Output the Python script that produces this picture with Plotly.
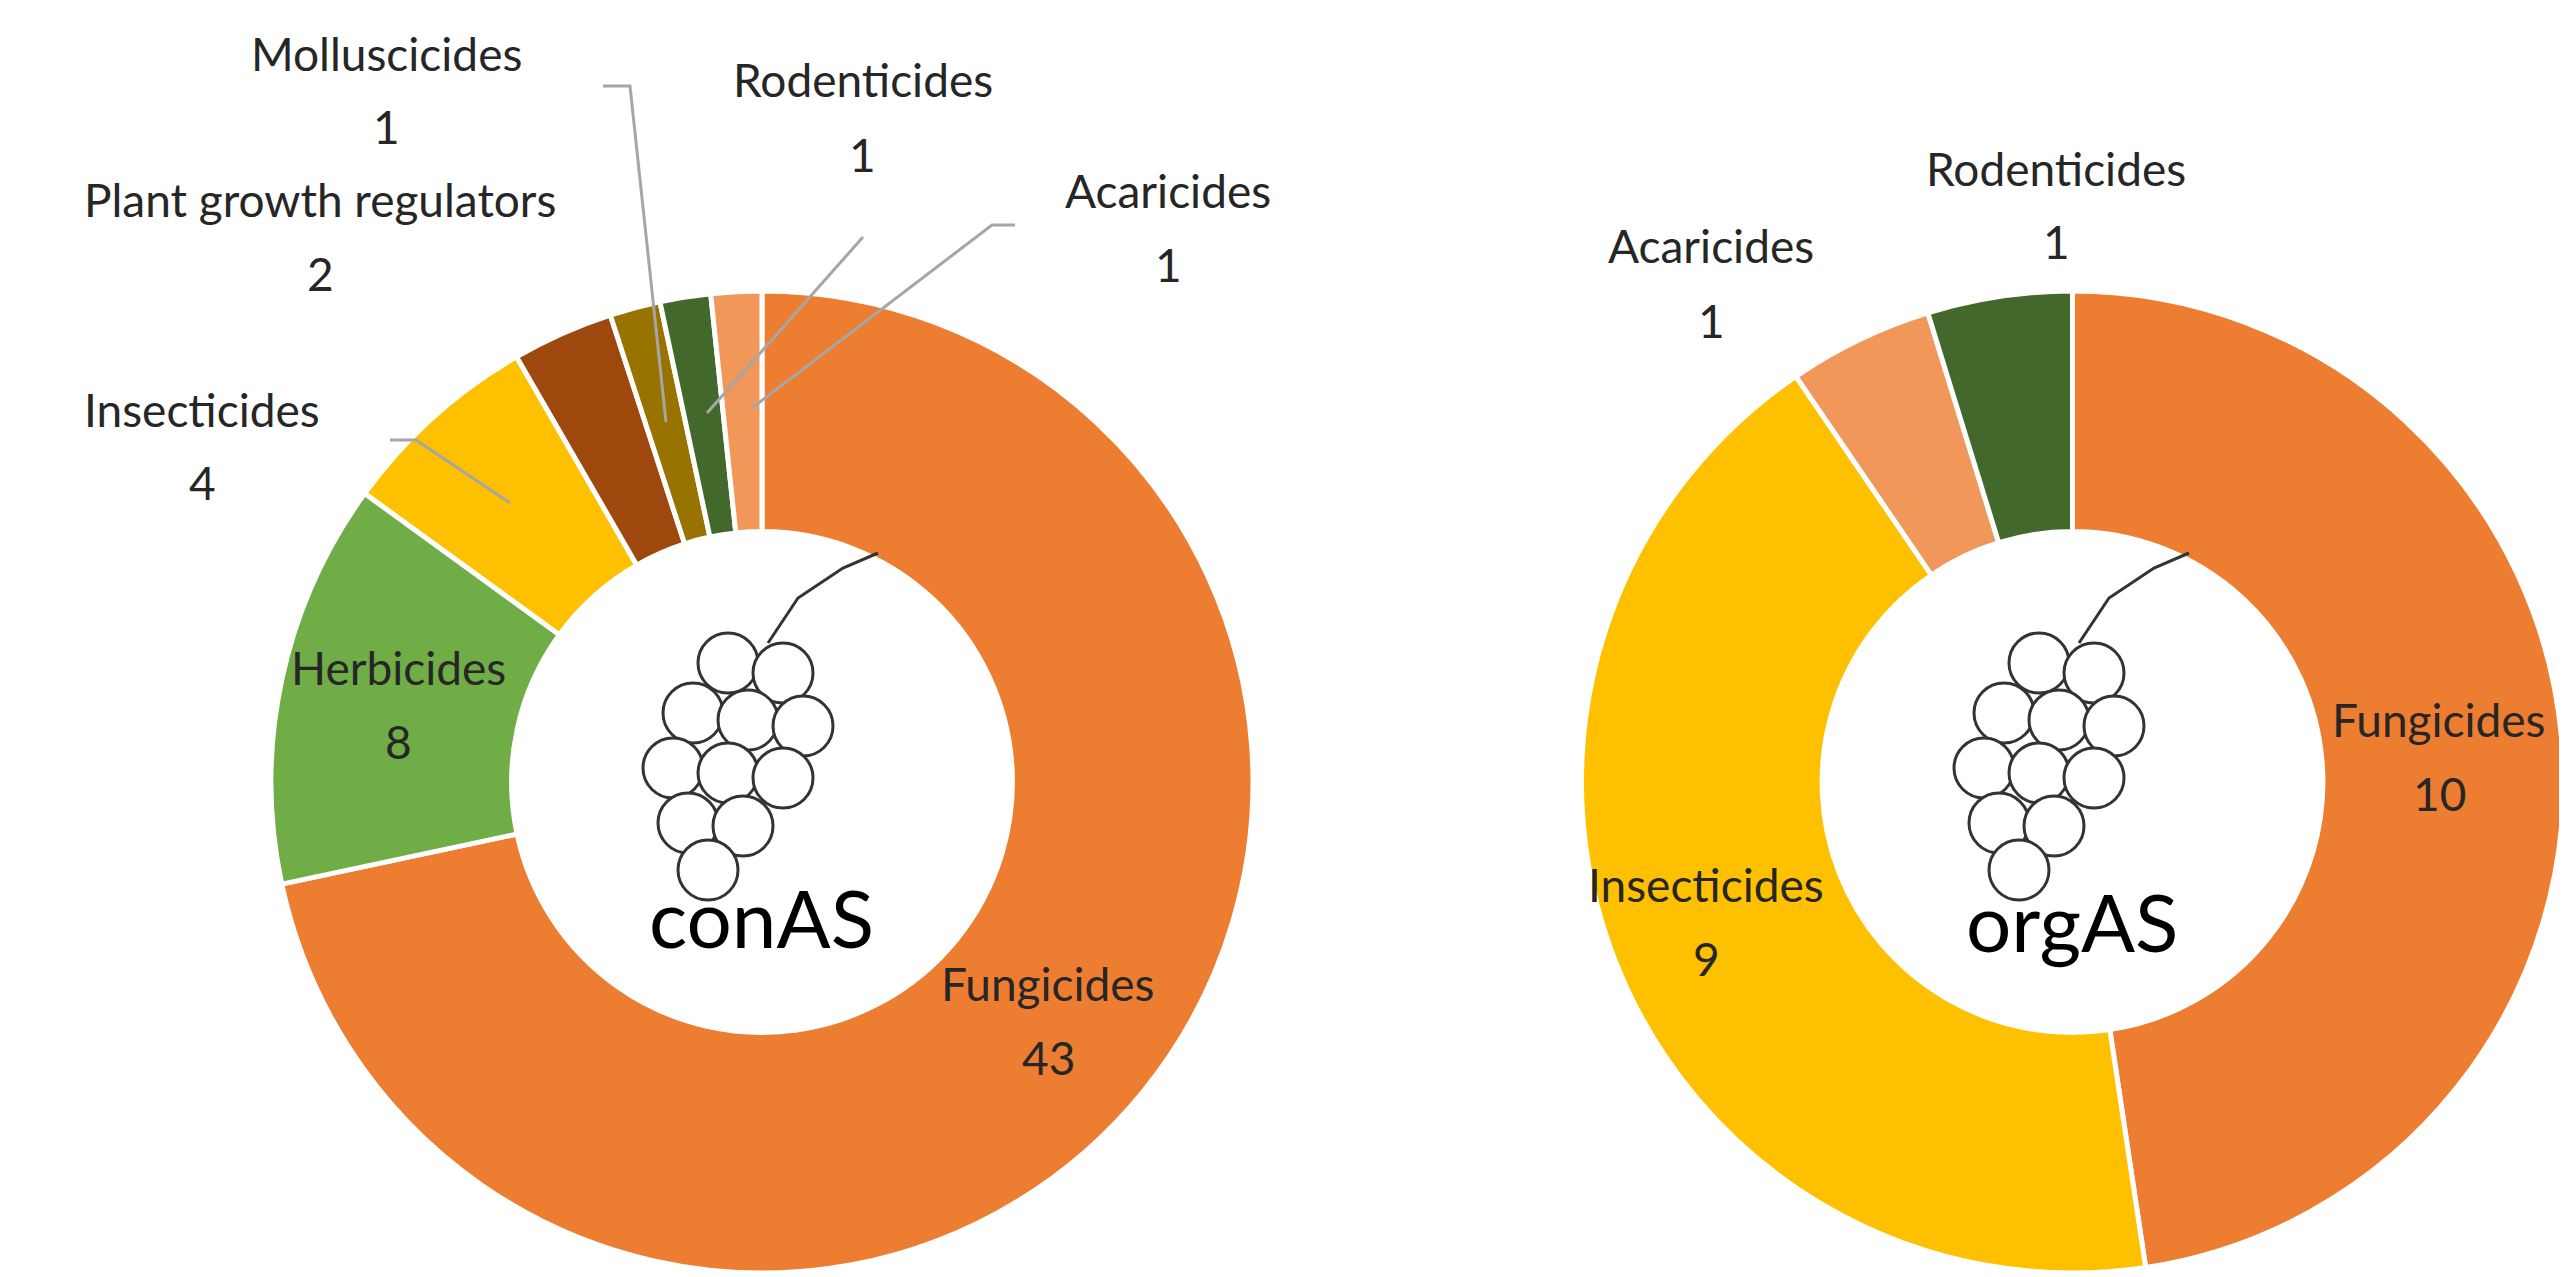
import plotly.graph_objects as go

W, H = 2567, 1277

con_labels = ["Fungicides", "Herbicides", "Insecticides", "Plant growth regulators",
              "Molluscicides", "Rodenticides", "Acaricides"]
con_values = [43, 8, 4, 2, 1, 1, 1]
org_labels = ["Fungicides", "Insecticides", "Acaricides", "Rodenticides"]
org_values = [10, 9, 1, 1]

COLORS = {
    "Fungicides": "#ED7D31",
    "Herbicides": "#70AD47",
    "Insecticides": "#FFC000",
    "Plant growth regulators": "#9E480E",
    "Molluscicides": "#997300",
    "Rodenticides": "#43682B",
    "Acaricides": "#F1975A",
}
FONT = "Lato"


def px(x, y):
    return x / W, 1 - y / H


fig = go.Figure()
for labels, values, dom in [
    (con_labels, con_values, [263 / W, 1245 / W]),
    (org_labels, org_values, [1571 / W, 2558 / W]),
]:
    fig.add_trace(go.Pie(
        labels=labels, values=values, hole=0.51, sort=False, direction="clockwise",
        rotation=0, textinfo="none", hoverinfo="label+value",
        marker=dict(colors=[COLORS[l] for l in labels], line=dict(color="white", width=5)),
        domain=dict(x=dom, y=[12 / H, 994 / H]), showlegend=False,
    ))

# label text positions (pixels): name line y, value line 74px lower
label_pos = [
    ("Molluscicides", 1, 378, 45), ("Rodenticides", 1, 855, 72), ("Acaricides", 1, 1160, 182),
    ("Plant growth regulators", 2, 312, 192), ("Insecticides", 4, 194, 401),
    ("Herbicides", 8, 390, 659), ("Fungicides", 43, 1040, 975),
    ("Rodenticides", 1, 2048, 160), ("Acaricides", 1, 1703, 238),
    ("Fungicides", 10, 2431, 711), ("Insecticides", 9, 1698, 876),
]
for name, val, x, y in label_pos:
    for txt, yy in [(name, y), (str(val), y + 74)]:
        a, b = px(x, yy)
        fig.add_annotation(x=a, y=b, xref="paper", yref="paper", showarrow=False,
                           xanchor="center", yanchor="middle", text=txt,
                           font=dict(family=FONT, size=46, color="#262626"))

for txt, x, y in [("conAS", 753, 909), ("orgAS", 2064, 913)]:
    a, b = px(x, y)
    fig.add_annotation(x=a, y=b, xref="paper", yref="paper", showarrow=False,
                       xanchor="center", yanchor="middle", text=txt,
                       font=dict(family=FONT, size=80, color="black"))

leaders = [
    [(595, 78), (622, 78), (658, 414)],
    [(855, 229), (699, 405)],
    [(1007, 217), (984, 217), (744, 400)],
    [(382, 432), (408, 432), (502, 495)],
]
for pts in leaders:
    path = "M " + " L ".join(f"{px(x, y)[0]},{px(x, y)[1]}" for x, y in pts)
    fig.add_shape(type="path", path=path, xref="paper", yref="paper",
                  line=dict(color="#A6A6A6", width=3))

# simple grape sketch in each donut hole
grapes = [(720, 655), (775, 665), (685, 705), (740, 712), (795, 718),
          (665, 760), (720, 765), (775, 770), (680, 815), (735, 818), (700, 862)]
for dx in [0, 1311]:
    for gx, gy in grapes:
        x0, y0 = px(gx + dx - 30, gy - 30)
        x1, y1 = px(gx + dx + 30, gy + 30)
        fig.add_shape(type="circle", xref="paper", yref="paper", x0=x0, y0=y0, x1=x1, y1=y1,
                      line=dict(color="#333333", width=3), fillcolor="white")
    stem = [(760, 635), (790, 590), (835, 560), (870, 545)]
    path = "M " + " L ".join(f"{px(x + dx, y)[0]},{px(x + dx, y)[1]}" for x, y in stem)
    fig.add_shape(type="path", path=path, xref="paper", yref="paper",
                  line=dict(color="#333333", width=3))

fig.update_layout(width=W, height=H, margin=dict(l=0, r=0, t=0, b=0),
                  paper_bgcolor="white", plot_bgcolor="white")
fig.write_html("out.html")
